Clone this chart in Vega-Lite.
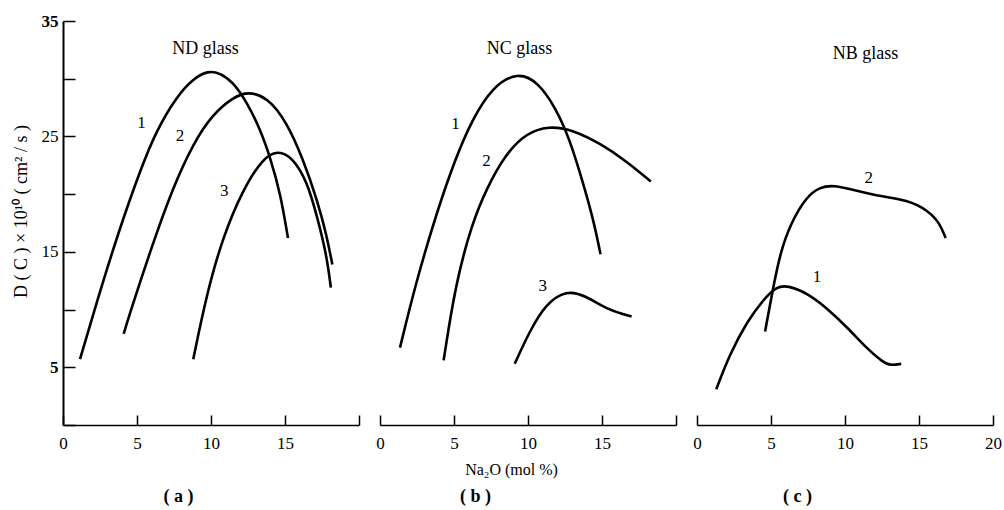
{
  "$schema": "https://vega.github.io/schema/vega-lite/v6.json",
  "padding": {"left": 12, "top": 12, "right": 5, "bottom": 5},
  "background": "white",
  "config": {
    "view": {"stroke": null},
    "font": "Liberation Serif",
    "axis": {"grid": false, "domainColor": "black", "tickColor": "black", "labelColor": "black", "titleColor": "black", "labelFont": "Liberation Serif", "titleFont": "Liberation Serif", "titleFontWeight": "normal"}
  },
  "datasets": {
    "curves": [
      {"panel": "a", "curve": "1", "x": 1.15, "y": 5.7},
      {"panel": "a", "curve": "1", "x": 2.5, "y": 11.6},
      {"panel": "a", "curve": "1", "x": 3.85, "y": 17.1},
      {"panel": "a", "curve": "1", "x": 5.2, "y": 22.0},
      {"panel": "a", "curve": "1", "x": 6.3, "y": 25.5},
      {"panel": "a", "curve": "1", "x": 7.7, "y": 28.5},
      {"panel": "a", "curve": "1", "x": 8.8, "y": 30.0},
      {"panel": "a", "curve": "1", "x": 9.8, "y": 30.7},
      {"panel": "a", "curve": "1", "x": 10.6, "y": 30.5},
      {"panel": "a", "curve": "1", "x": 11.5, "y": 29.7},
      {"panel": "a", "curve": "1", "x": 12.4, "y": 28.0},
      {"panel": "a", "curve": "1", "x": 13.3, "y": 25.7},
      {"panel": "a", "curve": "1", "x": 14.0, "y": 23.2},
      {"panel": "a", "curve": "1", "x": 14.7, "y": 20.0},
      {"panel": "a", "curve": "1", "x": 15.2, "y": 16.2},
      {"panel": "a", "curve": "2", "x": 4.1, "y": 7.9},
      {"panel": "a", "curve": "2", "x": 4.5, "y": 9.6},
      {"panel": "a", "curve": "2", "x": 5.9, "y": 15.1},
      {"panel": "a", "curve": "2", "x": 7.4, "y": 20.5},
      {"panel": "a", "curve": "2", "x": 8.8, "y": 24.4},
      {"panel": "a", "curve": "2", "x": 10.1, "y": 26.9},
      {"panel": "a", "curve": "2", "x": 11.5, "y": 28.4},
      {"panel": "a", "curve": "2", "x": 12.5, "y": 28.9},
      {"panel": "a", "curve": "2", "x": 13.8, "y": 28.4},
      {"panel": "a", "curve": "2", "x": 15.1, "y": 26.3},
      {"panel": "a", "curve": "2", "x": 16.2, "y": 23.1},
      {"panel": "a", "curve": "2", "x": 17.2, "y": 19.4},
      {"panel": "a", "curve": "2", "x": 17.8, "y": 16.5},
      {"panel": "a", "curve": "2", "x": 18.2, "y": 13.9},
      {"panel": "a", "curve": "3", "x": 8.8, "y": 5.7},
      {"panel": "a", "curve": "3", "x": 9.7, "y": 11.3},
      {"panel": "a", "curve": "3", "x": 10.8, "y": 16.3},
      {"panel": "a", "curve": "3", "x": 12.2, "y": 20.5},
      {"panel": "a", "curve": "3", "x": 13.5, "y": 23.1},
      {"panel": "a", "curve": "3", "x": 14.5, "y": 23.8},
      {"panel": "a", "curve": "3", "x": 15.5, "y": 23.2},
      {"panel": "a", "curve": "3", "x": 16.5, "y": 21.1},
      {"panel": "a", "curve": "3", "x": 17.2, "y": 17.9},
      {"panel": "a", "curve": "3", "x": 17.8, "y": 14.8},
      {"panel": "a", "curve": "3", "x": 18.1, "y": 11.9},
      {"panel": "b", "curve": "1", "x": 1.35, "y": 6.7},
      {"panel": "b", "curve": "1", "x": 2.4, "y": 12.2},
      {"panel": "b", "curve": "1", "x": 3.8, "y": 18.3},
      {"panel": "b", "curve": "1", "x": 5.1, "y": 23.1},
      {"panel": "b", "curve": "1", "x": 6.2, "y": 26.4},
      {"panel": "b", "curve": "1", "x": 7.6, "y": 29.3},
      {"panel": "b", "curve": "1", "x": 9.3, "y": 30.6},
      {"panel": "b", "curve": "1", "x": 10.7, "y": 29.7},
      {"panel": "b", "curve": "1", "x": 11.9, "y": 27.4},
      {"panel": "b", "curve": "1", "x": 12.8, "y": 24.8},
      {"panel": "b", "curve": "1", "x": 13.6, "y": 21.5},
      {"panel": "b", "curve": "1", "x": 14.4, "y": 17.9},
      {"panel": "b", "curve": "1", "x": 14.9, "y": 14.8},
      {"panel": "b", "curve": "2", "x": 4.3, "y": 5.6},
      {"panel": "b", "curve": "2", "x": 5.1, "y": 12.2},
      {"panel": "b", "curve": "2", "x": 6.2, "y": 17.4},
      {"panel": "b", "curve": "2", "x": 7.2, "y": 20.5},
      {"panel": "b", "curve": "2", "x": 8.5, "y": 23.5},
      {"panel": "b", "curve": "2", "x": 9.9, "y": 25.3},
      {"panel": "b", "curve": "2", "x": 11.4, "y": 25.9},
      {"panel": "b", "curve": "2", "x": 13.0, "y": 25.6},
      {"panel": "b", "curve": "2", "x": 15.0, "y": 24.3},
      {"panel": "b", "curve": "2", "x": 16.6, "y": 22.9},
      {"panel": "b", "curve": "2", "x": 18.3, "y": 21.1},
      {"panel": "b", "curve": "3", "x": 9.1, "y": 5.3},
      {"panel": "b", "curve": "3", "x": 10.1, "y": 8.1},
      {"panel": "b", "curve": "3", "x": 11.2, "y": 10.5},
      {"panel": "b", "curve": "3", "x": 12.6, "y": 11.7},
      {"panel": "b", "curve": "3", "x": 13.9, "y": 11.2},
      {"panel": "b", "curve": "3", "x": 15.5, "y": 9.9},
      {"panel": "b", "curve": "3", "x": 17.0, "y": 9.4},
      {"panel": "c", "curve": "2", "x": 4.6, "y": 8.1},
      {"panel": "c", "curve": "2", "x": 5.1, "y": 11.6},
      {"panel": "c", "curve": "2", "x": 5.6, "y": 14.8},
      {"panel": "c", "curve": "2", "x": 6.3, "y": 17.4},
      {"panel": "c", "curve": "2", "x": 7.4, "y": 19.8},
      {"panel": "c", "curve": "2", "x": 8.3, "y": 20.6},
      {"panel": "c", "curve": "2", "x": 9.2, "y": 20.8},
      {"panel": "c", "curve": "2", "x": 10.8, "y": 20.3},
      {"panel": "c", "curve": "2", "x": 12.4, "y": 19.8},
      {"panel": "c", "curve": "2", "x": 14.2, "y": 19.5},
      {"panel": "c", "curve": "2", "x": 15.6, "y": 18.6},
      {"panel": "c", "curve": "2", "x": 16.4, "y": 17.5},
      {"panel": "c", "curve": "2", "x": 16.8, "y": 16.2},
      {"panel": "c", "curve": "1", "x": 1.3, "y": 3.1},
      {"panel": "c", "curve": "1", "x": 2.2, "y": 6.1},
      {"panel": "c", "curve": "1", "x": 3.4, "y": 9.0},
      {"panel": "c", "curve": "1", "x": 4.5, "y": 10.9},
      {"panel": "c", "curve": "1", "x": 5.4, "y": 12.0},
      {"panel": "c", "curve": "1", "x": 6.1, "y": 12.1},
      {"panel": "c", "curve": "1", "x": 7.5, "y": 11.4},
      {"panel": "c", "curve": "1", "x": 8.8, "y": 10.1},
      {"panel": "c", "curve": "1", "x": 10.2, "y": 8.4},
      {"panel": "c", "curve": "1", "x": 11.5, "y": 6.6},
      {"panel": "c", "curve": "1", "x": 12.6, "y": 5.4},
      {"panel": "c", "curve": "1", "x": 13.1, "y": 5.15},
      {"panel": "c", "curve": "1", "x": 13.8, "y": 5.3}
    ],
    "labels": [
      {"panel": "a", "text": "1", "x": 5.3, "y": 26.2},
      {"panel": "a", "text": "2", "x": 7.9, "y": 25.0},
      {"panel": "a", "text": "3", "x": 10.9, "y": 20.3},
      {"panel": "b", "text": "1", "x": 5.1, "y": 26.1},
      {"panel": "b", "text": "2", "x": 7.2, "y": 22.9},
      {"panel": "b", "text": "3", "x": 11.0, "y": 12.0},
      {"panel": "c", "text": "2", "x": 11.6, "y": 21.4},
      {"panel": "c", "text": "1", "x": 8.1, "y": 12.8}
    ]
  },
  "spacing": 21,
  "bounds": "flush",
  "hconcat": [
    {
      "width": 296,
      "height": 404,
      "layer": [
        {
          "data": {"name": "curves"},
          "transform": [{"filter": "datum.panel == 'a'"}],
          "mark": {"type": "line", "interpolate": "basis", "color": "black", "strokeWidth": 2.6},
          "encoding": {
            "x": {"field": "x", "type": "quantitative", "scale": {"domain": [0, 20], "nice": false, "zero": false},
              "axis": {"orient": "bottom", "values": [0, 5, 10, 15, 20], "tickSize": -10, "tickWidth": 1.5, "domainWidth": 1.5, "labelFlush": false,
                "labelExpr": "datum.value == 20 ? '' : datum.label", "labelFontSize": 17, "labelPadding": 20,
                "title": "( a )", "titleX": 115, "titleY": 71, "titleBaseline": "middle", "titleAlign": "center", "titleFontSize": 18, "titleFontWeight": "bold"}},
            "y": {"field": "y", "type": "quantitative", "scale": {"domain": [0, 35], "nice": false, "zero": false},
              "axis": {"values": [0, 5, 10, 15, 20, 25, 30, 35], "tickSize": -12, "tickWidth": 1.5, "domainWidth": 2,
                "labelExpr": "datum.value % 10 == 5 ? datum.label : ''", "labelFontSize": 17, "labelPadding": 17,
                "labelFontWeight": {"condition": {"test": "datum.value == 35 || datum.value == 5", "value": "bold"}, "value": "normal"},
                "title": "D ( C ) × 10¹⁰ ( cm² / s )", "titleX": -42, "titleY": 190, "titleAngle": -90, "titleBaseline": "middle", "titleAlign": "center", "titleFontSize": 18}},
            "detail": {"field": "curve"}
          }
        },
        {
          "data": {"name": "labels"},
          "transform": [{"filter": "datum.panel == 'a'"}],
          "mark": {"type": "text", "fontSize": 17, "color": "black"},
          "encoding": {
            "x": {"field": "x", "type": "quantitative",
              "axis": {"orient": "top", "domain": false, "ticks": false, "labels": false, "title": "ND glass", "titleX": 142, "titleY": 27, "titleBaseline": "middle", "titleAlign": "center", "titleFontSize": 18}},
            "y": {"field": "y", "type": "quantitative", "axis": null},
            "text": {"field": "text"}
          }
        }
      ],
      "resolve": {"axis": {"x": "independent", "y": "independent"}}
    },
    {
      "width": 296,
      "height": 404,
      "layer": [
        {
          "data": {"name": "curves"},
          "transform": [{"filter": "datum.panel == 'b'"}],
          "mark": {"type": "line", "interpolate": "basis", "color": "black", "strokeWidth": 2.6},
          "encoding": {
            "x": {"field": "x", "type": "quantitative", "scale": {"domain": [0, 20], "nice": false, "zero": false},
              "axis": {"orient": "bottom", "values": [0, 5, 10, 15, 20], "tickSize": -10, "tickWidth": 1.5, "domainWidth": 1.5, "labelFlush": false,
                "labelExpr": "datum.value == 20 ? '' : datum.label", "labelFontSize": 17, "labelPadding": 20,
                "title": "( b )", "titleX": 95, "titleY": 71, "titleBaseline": "middle", "titleAlign": "center", "titleFontSize": 18, "titleFontWeight": "bold"}},
            "y": {"field": "y", "type": "quantitative", "scale": {"domain": [0, 35], "nice": false, "zero": false},
              "axis": {"domain": false, "ticks": false, "labels": false, "title": "Na₂O (mol %)", "titleX": 131, "titleY": 448, "titleAngle": 0, "titleBaseline": "middle", "titleAlign": "center", "titleFontSize": 16}},
            "detail": {"field": "curve"}
          }
        },
        {
          "data": {"name": "labels"},
          "transform": [{"filter": "datum.panel == 'b'"}],
          "mark": {"type": "text", "fontSize": 17, "color": "black"},
          "encoding": {
            "x": {"field": "x", "type": "quantitative",
              "axis": {"orient": "top", "domain": false, "ticks": false, "labels": false, "title": "NC glass", "titleX": 139, "titleY": 27, "titleBaseline": "middle", "titleAlign": "center", "titleFontSize": 18}},
            "y": {"field": "y", "type": "quantitative", "axis": null},
            "text": {"field": "text"}
          }
        }
      ],
      "resolve": {"axis": {"x": "independent", "y": "independent"}}
    },
    {
      "width": 296,
      "height": 404,
      "layer": [
        {
          "data": {"name": "curves"},
          "transform": [{"filter": "datum.panel == 'c'"}],
          "mark": {"type": "line", "interpolate": "basis", "color": "black", "strokeWidth": 2.6},
          "encoding": {
            "x": {"field": "x", "type": "quantitative", "scale": {"domain": [0, 20], "nice": false, "zero": false},
              "axis": {"orient": "bottom", "values": [0, 5, 10, 15, 20], "tickSize": -10, "tickWidth": 1.5, "domainWidth": 1.5, "labelFlush": false,
                "labelFontSize": 17, "labelPadding": 20,
                "title": "( c )", "titleX": 100, "titleY": 71, "titleBaseline": "middle", "titleAlign": "center", "titleFontSize": 18, "titleFontWeight": "bold"}},
            "y": {"field": "y", "type": "quantitative", "scale": {"domain": [0, 35], "nice": false, "zero": false}, "axis": null},
            "detail": {"field": "curve"}
          }
        },
        {
          "data": {"name": "labels"},
          "transform": [{"filter": "datum.panel == 'c'"}],
          "mark": {"type": "text", "fontSize": 17, "color": "black"},
          "encoding": {
            "x": {"field": "x", "type": "quantitative",
              "axis": {"orient": "top", "domain": false, "ticks": false, "labels": false, "title": "NB glass", "titleX": 168, "titleY": 32, "titleBaseline": "middle", "titleAlign": "center", "titleFontSize": 18}},
            "y": {"field": "y", "type": "quantitative", "axis": null},
            "text": {"field": "text"}
          }
        }
      ],
      "resolve": {"axis": {"x": "independent", "y": "independent"}}
    }
  ]
}
